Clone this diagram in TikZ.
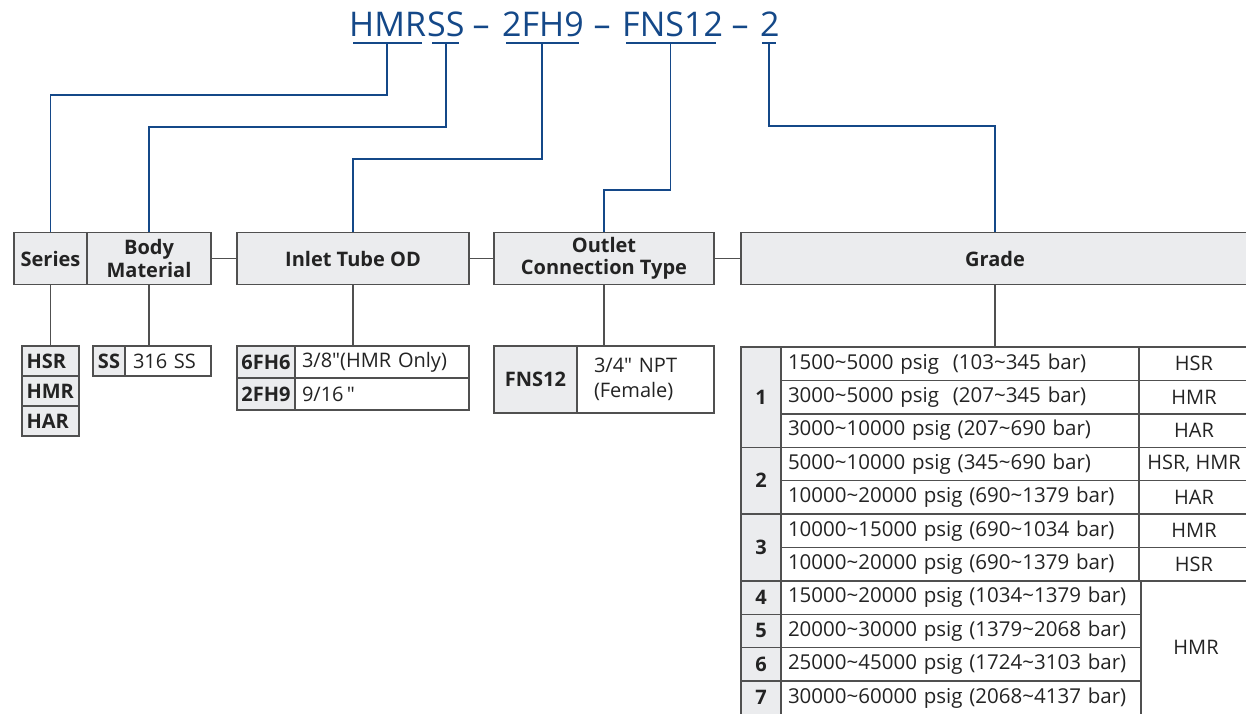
\documentclass[tikz,border=0pt]{standalone}
\usepackage{fontspec}
\setmainfont{Open Sans}[Ligatures=TeXOff]
\definecolor{codeblue}{RGB}{20,72,136}
\definecolor{cellgray}{RGB}{235,236,238}
\definecolor{linegray}{RGB}{80,80,80}
\definecolor{txt}{RGB}{35,35,35}
\newcommand\tld{\textasciitilde}
\newcommand\dq{\char34\relax}
\begin{document}
\begin{tikzpicture}[x=1pt,y=-1pt,
  hbox/.style={draw=linegray, line width=1.8pt, fill=cellgray, inner sep=0pt, align=center, text=txt,
    font=\fontsize{20}{22.5}\selectfont\bfseries, minimum height=52pt},
  gcell/.style={draw=linegray, line width=1.4pt, fill=cellgray, inner sep=0pt, text=txt,
    font=\fontsize{20}{23}\selectfont\bfseries},
  wcell/.style={draw=linegray, line width=1.4pt, fill=white, inner sep=0pt, text=txt,
    font=\fontsize{20}{23}\selectfont},
  code/.style={text=codeblue, font=\fontsize{34}{38}\selectfont, inner sep=0pt, anchor=base west},
  blueline/.style={draw=codeblue, line width=1.8pt},
  blackline/.style={draw=linegray, line width=1.4pt}]
\useasboundingbox (0,0) rectangle (1246,713);
\clip (0,0) rectangle (1246,713);
\fill[white] (0,0) rectangle (1246,713);

% ---------- code line ----------
\node[code] (cHMR) at (349,36) {HMR};
\node[code] (cSS) at (427,36) {SS};
\node[code, anchor=base] (d1) at (481,36) {–};
\node[code] (c2FH9) at (502,36) {2FH9};
\node[code, anchor=base] (d2) at (602,36) {–};
\node[code] (cFNS) at (622,36) {FNS12};
\node[code, anchor=base] (d3) at (740,36) {–};
\node[code] (c2) at (760,36) {2};

\coordinate (uHMRa) at (353,43); \coordinate (uHMRb) at (422,43);
\coordinate (uSSa) at (432,43);  \coordinate (uSSb) at (459,43);
\coordinate (u2FHa) at (506,43); \coordinate (u2FHb) at (579,43);
\coordinate (uFNSa) at (626,43); \coordinate (uFNSb) at (716,43);
\coordinate (u2a) at (762,43);   \coordinate (u2b) at (776,43);
\coordinate (tHMR) at (387,43);
\coordinate (tSS) at (446,43);
\coordinate (t2FH) at (542,43);
\coordinate (tFNS) at (670.5,43);
\coordinate (t2) at (769,43);
\foreach \a/\b in {uHMRa/uHMRb,uSSa/uSSb,u2FHa/u2FHb,uFNSa/uFNSb,u2a/u2b}
  \draw[blueline] (\a) -- (\b);

% ---------- header boxes ----------
\node[hbox, minimum width=73pt] (series) at (50.5,258.5) {Series};
\node[hbox, minimum width=124pt] (body) at (149,258.5) {Body\\Material};
\node[hbox, minimum width=232pt] (inlet) at (353,258.5) {Inlet Tube OD};
\node[hbox, minimum width=220pt] (outlet) at (604,258.5) {Outlet\\Connection Type};
\node[hbox, minimum width=508pt] (grade) at (995,258.5) {Grade};

\draw[blackline] (body.east) -- (inlet.west);
\draw[blackline] (inlet.east) -- (outlet.west);
\draw[blackline] (outlet.east) -- (grade.west);

% ---------- blue connectors ----------
\draw[blueline] (tHMR) -- ++(0,52) -| (series.north);
\draw[blueline] (tSS) -- ++(0,84) -| (body.north);
\draw[blueline] (t2FH) -- ++(0,116) -| (inlet.north);
\draw[blueline] (tFNS) -- ++(0,147) -| (outlet.north);
\draw[blueline] (t2) -- ++(0,83) -| (grade.north);

% ---------- series options ----------
\foreach \t [count=\i from 0] in {HSR,HMR,HAR}
  \node[gcell, minimum width=57pt, minimum height=30pt, text width=48pt, inner xsep=4.5pt, align=left]
    (ser\i) at (50.5,361+30*\i) {\t};
\draw[blackline] (series.south) -- (ser0.north);

% ---------- body material ----------
\node[gcell, minimum width=32pt, minimum height=30pt] (bodyss) at (109,361) {SS};
\node[wcell, minimum width=86pt, minimum height=30pt, text width=70pt, inner xsep=8pt, align=left]
  (bodyv) at (168,361) {316 SS};
\draw[blackline] (body.south) -- (body.south |- bodyss.north);

% ---------- inlet ----------
\node[gcell, minimum width=58pt, minimum height=32pt] (in0) at (266,362) {6FH6};
\node[wcell, minimum width=174pt, minimum height=32pt, text width=160pt, inner xsep=7pt, align=left]
  (inv0) at (382,362) {3/8\dq(HMR Only)};
\node[gcell, minimum width=58pt, minimum height=32pt] (in1) at (266,394) {2FH9};
\node[wcell, minimum width=174pt, minimum height=32pt, text width=160pt, inner xsep=7pt, align=left]
  (inv1) at (382,394) {9/16\,\dq};
\draw[blackline] (inlet.south) -- (inlet.south |- in0.north);

% ---------- outlet ----------
\node[gcell, minimum width=83pt, minimum height=67pt] (outg) at (535.5,379.5) {FNS12};
\node[wcell, minimum width=137pt, minimum height=67pt, text width=119pt, inner xsep=9pt, align=left,
  font=\fontsize{20}{25}\selectfont] (outv) at (645.5,379.5) {\hspace*{8pt}3/4\dq\ NPT\\\hspace*{8pt}(Female)};
\draw[blackline] (outlet.south) -- (outlet.south |- outg.north);

% ---------- grade table ----------
\def\rh{33.4}
% number column groups: start row / span / label
\foreach \s/\n/\l in {0/3/1,3/2/2,5/2/3,7/1/4,8/1/5,9/1/6,10/1/7}
  \node[gcell, minimum width=40pt, minimum height=\n*\rh*1pt] (num\l) at (761,347+\s*\rh+\n*\rh/2) {\l};
% range column
\foreach \t [count=\i from 0] in {
  1500\tld5000 psig\ \ (103\tld345 bar),
  3000\tld5000 psig\ \ (207\tld345 bar),
  3000\tld10000 psig (207\tld690 bar),
  5000\tld10000 psig (345\tld690 bar),
  10000\tld20000 psig (690\tld1379 bar),
  10000\tld15000 psig (690\tld1034 bar),
  10000\tld20000 psig (690\tld1379 bar),
  15000\tld20000 psig (1034\tld1379 bar),
  20000\tld30000 psig (1379\tld2068 bar),
  25000\tld45000 psig (1724\tld3103 bar),
  30000\tld60000 psig (2068\tld4137 bar)}
  \node[wcell, minimum width=360pt, minimum height=\rh*1pt, text width=346pt, inner xsep=7pt, align=left,
    font=\fontsize{20.5}{23}\selectfont]
    (rng\i) at (961,347+\i*\rh+\rh/2) {\t};
% series column
\foreach \t [count=\i from 0] in {HSR,HMR,HAR,{HSR, HMR},HAR,HMR,HSR}
  \node[wcell, minimum width=110pt, minimum height=\rh*1pt] (gs\i) at (1194,347+\i*\rh+\rh/2) {\t};
\node[wcell, minimum width=110pt, minimum height=4*\rh*1pt] (gs7) at (1196,347+7*\rh+2*\rh) {HMR};
\draw[blackline] (grade.south) -- (grade.south |- rng0.north);
\end{tikzpicture}
\end{document}
